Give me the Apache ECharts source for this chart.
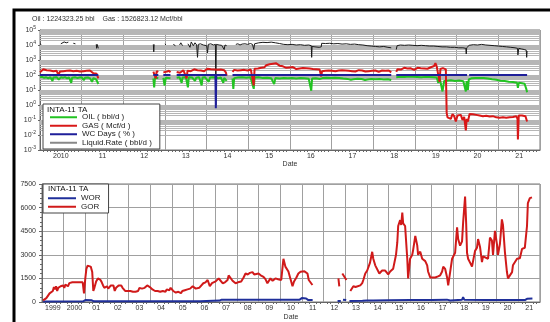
<!DOCTYPE html>
<html>
<head>
<meta charset="utf-8">
<script src="https://cdn.jsdelivr.net/npm/echarts@6/dist/echarts.min.js"></script>
<style>
  html, body { margin: 0; padding: 0; background: #fff; }
  #chart { width: 550px; height: 322px; }
</style>
</head>
<body>
<div id="chart"></div>
<script>
// ---- data (x = decimal year) ----
const topYearLabels = ['2010', '11', '12', '13', '14', '15', '16', '17', '18', '19', '20', '21'];
const bottomYearLabels = ['1999', '2000', '01', '02', '03', '04', '05', '06', '07', '08', '09', '10',
  '11', '12', '13', '14', '15', '16', '17', '18', '19', '20', '21'];
const bottomTicks = [0, 1500, 3000, 4500, 6000, 7500];

const oilRate = [
  [2010.00, 70], [2010.05, 75], [2010.10, 65], [2010.15, 70], [2010.20, 60], [2010.25, 72], [2010.30, 40], [2010.32, 68],
  [2010.40, 72], [2010.45, 50], [2010.50, 70], [2010.55, 65], [2010.60, 72], [2010.65, 60], [2010.70, 68], [2010.75, 30],
  [2010.77, 66], [2010.85, 70], [2010.90, 62], [2010.95, 68], [2011.00, 70], [2011.05, 45], [2011.08, 65], [2011.15, 68],
  [2011.20, 60], [2011.25, 35], [2011.28, 62], [2011.35, 50], [2011.40, 25], [2011.41, null],
  [2012.72, 60], [2012.74, 15], [2012.76, 65], [2012.84, 62], [2012.85, null],
  [2012.96, 65], [2012.99, 20], [2013.02, 66], [2013.13, 60], [2013.14, null],
  [2013.28, 65], [2013.35, 70], [2013.40, 30], [2013.42, 68], [2013.50, 72], [2013.55, 15], [2013.57, 70], [2013.65, 68],
  [2013.72, 40], [2013.75, 66], [2013.82, 70], [2013.88, 20], [2013.90, 68], [2013.96, 72], [2014.00, 64], [2014.05, 35],
  [2014.08, 68], [2014.15, 70], [2014.22, 66], [2014.28, 60], [2014.34, 68], [2014.40, 30], [2014.42, 65], [2014.48, 40],
  [2014.49, null],
  [2014.62, 60], [2014.64, 12], [2014.66, 62], [2014.75, 68], [2014.85, 70], [2014.95, 66], [2015.05, 72], [2015.13, 12],
  [2015.15, 68], [2015.25, 70], [2015.35, 62], [2015.45, 66], [2015.55, 60], [2015.62, 25], [2015.65, 64], [2015.75, 58],
  [2015.85, 62], [2015.95, 60], [2016.05, 64], [2016.15, 58], [2016.25, 62], [2016.35, 60], [2016.45, 56], [2016.51, 9],
  [2016.53, 58], [2016.62, 60], [2016.72, 55], [2016.75, 45], [2016.78, 62], [2016.88, 66], [2016.98, 64], [2017.08, 66],
  [2017.18, 62], [2017.28, 58], [2017.38, 55], [2017.46, 48], [2017.52, 52], [2017.62, 56], [2017.72, 54], [2017.80, 46],
  [2017.86, 50], [2017.95, 54], [2018.05, 52], [2018.15, 54], [2018.25, 50], [2018.35, 52], [2018.43, 46], [2018.44, null],
  [2018.55, 72], [2018.65, 76], [2018.75, 74], [2018.85, 78], [2018.95, 76], [2019.05, 74], [2019.15, 72], [2019.25, 75],
  [2019.35, 73], [2019.45, 70], [2019.52, 68], [2019.56, 30], [2019.59, 66], [2019.63, 64], [2019.66, 8], [2019.70, 40],
  [2019.76, 42], [2019.86, 45], [2019.96, 40], [2020.06, 43], [2020.16, 38], [2020.22, 8], [2020.24, 40], [2020.27, 10],
  [2020.29, 50], [2020.35, 60], [2020.45, 62], [2020.55, 64], [2020.65, 62], [2020.75, 58], [2020.85, 52], [2020.95, 48],
  [2021.05, 42], [2021.15, 40], [2021.25, 36], [2021.35, 34], [2021.45, 30], [2021.47, 14], [2021.49, 30], [2021.57, 28],
  [2021.63, 26], [2021.67, 12], [2021.69, 7]
];

const gasRate = [
  [2010.00, 150], [2010.04, 170], [2010.08, 240], [2010.12, 260], [2010.16, 210], [2010.20, 170], [2010.24, 200], [2010.28, 230],
  [2010.32, 180], [2010.36, 150], [2010.40, 190], [2010.44, 100], [2010.48, 170], [2010.52, 200], [2010.56, 180], [2010.60, 210],
  [2010.64, 190], [2010.68, 160], [2010.72, 200], [2010.76, 220], [2010.80, 180], [2010.84, 140], [2010.88, 190], [2010.92, 210],
  [2010.96, 170], [2011.00, 200], [2011.04, 180], [2011.08, 150], [2011.12, 190], [2011.16, 170], [2011.20, 200], [2011.24, 160],
  [2011.28, 130], [2011.32, 170], [2011.36, 120], [2011.40, 60], [2011.41, null],
  [2012.72, 170], [2012.75, 210], [2012.78, 60], [2012.80, 180], [2012.84, 160], [2012.85, null],
  [2012.96, 150], [2013.00, 200], [2013.05, 170], [2013.10, 190], [2013.13, 150], [2013.14, null],
  [2013.28, 160], [2013.32, 180], [2013.36, 140], [2013.40, 190], [2013.44, 210], [2013.48, 170], [2013.52, 60], [2013.54, 190],
  [2013.58, 220], [2013.62, 180], [2013.66, 200], [2013.70, 240], [2013.74, 190], [2013.78, 210], [2013.82, 250], [2013.86, 200],
  [2013.90, 230], [2013.94, 180], [2013.98, 220], [2014.02, 260], [2014.06, 210], [2014.10, 240], [2014.14, 200], [2014.18, 230],
  [2014.22, 260], [2014.26, 220], [2014.30, 190], [2014.34, 230], [2014.38, 250], [2014.42, 210], [2014.46, 150], [2014.48, 90],
  [2014.49, null],
  [2014.62, 160], [2014.66, 220], [2014.70, 250], [2014.74, 200], [2014.78, 230], [2014.82, 210], [2014.86, 250], [2014.90, 220],
  [2014.94, 240], [2014.98, 200], [2015.02, 260], [2015.06, 230], [2015.10, 280], [2015.13, 20], [2015.15, 260], [2015.19, 300],
  [2015.23, 270], [2015.27, 340], [2015.31, 300], [2015.35, 380], [2015.39, 330], [2015.43, 450], [2015.47, 400], [2015.51, 520],
  [2015.55, 430], [2015.59, 560], [2015.63, 470], [2015.67, 600], [2015.71, 500], [2015.75, 420], [2015.79, 520], [2015.83, 380],
  [2015.87, 440], [2015.91, 300], [2015.95, 260], [2015.99, 320], [2016.03, 280], [2016.07, 340], [2016.11, 290], [2016.15, 250],
  [2016.19, 310], [2016.23, 270], [2016.27, 230], [2016.31, 290], [2016.35, 250], [2016.39, 280], [2016.43, 240], [2016.47, 270],
  [2016.51, 220], [2016.55, 250], [2016.59, 210], [2016.63, 240], [2016.67, 200], [2016.71, 230], [2016.75, 80], [2016.77, 180],
  [2016.81, 210], [2016.85, 190], [2016.89, 220], [2016.93, 200], [2016.97, 230], [2017.01, 190], [2017.05, 210], [2017.09, 180],
  [2017.13, 220], [2017.17, 200], [2017.21, 190], [2017.25, 210], [2017.29, 180], [2017.33, 200], [2017.37, 220], [2017.41, 190],
  [2017.45, 210], [2017.49, 180], [2017.53, 200], [2017.57, 170], [2017.61, 190], [2017.65, 210], [2017.69, 180], [2017.73, 200],
  [2017.77, 190], [2017.81, 170], [2017.85, 200], [2017.89, 180], [2017.93, 210], [2017.97, 190], [2018.01, 170], [2018.05, 200],
  [2018.09, 180], [2018.13, 160], [2018.17, 190], [2018.21, 200], [2018.25, 170], [2018.29, 190], [2018.33, 180], [2018.37, 200],
  [2018.41, 170], [2018.43, 150], [2018.44, null],
  [2018.55, 160], [2018.58, 240], [2018.62, 280], [2018.66, 230], [2018.70, 260], [2018.74, 300], [2018.78, 250], [2018.82, 270],
  [2018.86, 230], [2018.90, 280], [2018.94, 250], [2018.98, 220], [2019.02, 270], [2019.06, 300], [2019.10, 250], [2019.14, 280],
  [2019.18, 320], [2019.22, 270], [2019.26, 300], [2019.30, 260], [2019.34, 290], [2019.38, 330], [2019.42, 280], [2019.46, 400],
  [2019.49, 620], [2019.52, 380], [2019.56, 300], [2019.59, 35], [2019.61, 250], [2019.64, 300], [2019.67, 290], [2019.71, 250],
  [2019.74, 240], [2019.76, 0.3], [2019.78, 0.15], [2019.82, 0.2], [2019.86, 0.12], [2019.90, 0.25], [2019.94, 0.18], [2019.98, 0.08],
  [2020.02, 0.2], [2020.06, 0.15], [2020.10, 0.22], [2020.14, 0.1], [2020.18, 0.16], [2020.22, 0.02], [2020.24, 0.12], [2020.27, 0.08],
  [2020.31, 0.25], [2020.35, 0.2], [2020.39, 0.24], [2020.43, 0.18], [2020.47, 0.22], [2020.51, 0.17], [2020.55, 0.2], [2020.59, 0.15],
  [2020.63, 0.18], [2020.67, 0.16], [2020.71, 0.19], [2020.75, 0.15], [2020.79, 0.17], [2020.83, 0.14], [2020.87, 0.18], [2020.91, 0.16],
  [2020.95, 0.15], [2020.99, 0.17], [2021.03, 0.14], [2021.07, 0.16], [2021.11, 0.15], [2021.15, 0.17], [2021.19, 0.14], [2021.23, 0.16],
  [2021.27, 0.15], [2021.31, 0.17], [2021.35, 0.16], [2021.39, 0.15], [2021.43, 0.18], [2021.46, 0.12], [2021.47, 0.005], [2021.49, 0.2],
  [2021.53, 0.25], [2021.57, 0.2], [2021.61, 0.26], [2021.65, 0.18], [2021.69, 0.08]
];

const wcDays = [
  [2010.00, 100], [2011.40, 100], [2011.41, null],
  [2012.72, 100], [2012.84, 100], [2012.85, null],
  [2012.96, 100], [2013.13, 100], [2013.14, null],
  [2013.28, 100], [2014.21, 100], [2014.22, 0.6], [2014.23, 100], [2014.48, 100], [2014.49, null],
  [2014.62, 100], [2018.43, 100], [2018.44, null],
  [2018.55, 100], [2020.25, 100], [2020.26, null],
  [2020.30, 100], [2021.69, 100]
];

const liquidRate = [
  [2010.00, 12000], [2010.03, 11000], [2010.04, null],
  [2010.50, 12000], [2010.53, 15000], [2010.58, 16000], [2010.63, 14000], [2010.68, 15500], [2010.72, null],
  [2010.80, 13000], [2010.85, 12000], [2010.86, null],
  [2011.35, 11000], [2011.36, 6000], [2011.37, 11000], [2011.40, 6000], [2011.41, null],
  [2012.72, 11000], [2012.73, 3500], [2012.74, 11000], [2012.76, null],
  [2013.00, 12000], [2013.02, 10000], [2013.03, null],
  [2013.20, 11000], [2013.25, 9000], [2013.26, null],
  [2013.35, 10000], [2013.38, 14000], [2013.42, 9000], [2013.44, null],
  [2013.55, 12000], [2013.58, 16000], [2013.60, 7000], [2013.63, 16000], [2013.68, 9000], [2013.72, 14000], [2013.76, 10000],
  [2013.78, 1500], [2013.80, 11000], [2013.85, 12000], [2013.92, 10000], [2013.96, 11000], [2014.00, 9000], [2014.02, 3000],
  [2014.04, 11000], [2014.10, 12000], [2014.16, 10000], [2014.21, 11000], [2014.22, 1], [2014.23, 11000], [2014.30, 10000],
  [2014.36, 9500], [2014.42, 5000], [2014.44, 10000], [2014.48, 9000], [2014.49, null],
  [2014.70, 11000], [2014.75, 12000], [2014.80, 10000], [2014.85, 11500], [2014.92, 12000], [2014.98, 11000], [2015.05, 12500],
  [2015.10, 11000], [2015.13, 5000], [2015.15, 12000], [2015.25, 14000], [2015.35, 15000], [2015.45, 14500], [2015.55, 15500],
  [2015.65, 14000], [2015.75, 12500], [2015.85, 11000], [2015.95, 10500], [2016.05, 11000], [2016.15, 10000], [2016.25, 10500],
  [2016.35, 9500], [2016.45, 10000], [2016.51, 9000], [2016.52, 1500], [2016.53, 8000], [2016.60, 7500], [2016.70, 7000],
  [2016.75, 7500], [2016.76, 13000], [2016.85, 12500], [2016.95, 13000], [2017.05, 12000], [2017.15, 12500], [2017.25, 11500],
  [2017.35, 12000], [2017.45, 11000], [2017.55, 11500], [2017.65, 10500], [2017.75, 10000], [2017.85, 9000], [2017.95, 8500],
  [2018.05, 8000], [2018.15, 7500], [2018.25, 8000], [2018.35, 7000], [2018.43, 6500], [2018.44, null],
  [2018.55, 5000], [2018.57, 9000], [2018.65, 10000], [2018.75, 9500], [2018.85, 10000], [2018.95, 9500], [2019.05, 9000],
  [2019.15, 9500], [2019.25, 9000], [2019.35, 8500], [2019.45, 8500], [2019.55, 8000], [2019.65, 7500], [2019.75, 7500],
  [2019.85, 7000], [2019.95, 7000], [2020.05, 6500], [2020.15, 6500], [2020.22, 6000], [2020.23, 2500], [2020.24, 6500],
  [2020.30, 9500], [2020.40, 10500], [2020.50, 10000], [2020.60, 11000], [2020.70, 10000], [2020.80, 9500], [2020.90, 9000],
  [2021.00, 8500], [2021.10, 8000], [2021.20, 7500], [2021.30, 7000], [2021.40, 6500], [2021.46, 6000], [2021.47, 2200],
  [2021.49, 6000], [2021.55, 5500], [2021.62, 5000], [2021.67, 4500], [2021.68, 1500], [2021.69, 4000]
];

const worRatio = [
  [1999.05, 30], [2000.90, 40], [2001.00, 120], [2001.30, 110], [2001.40, 40], [2006.30, 40], [2006.35, 90], [2007.20, 90],
  [2007.30, 150], [2010.90, 150], [2011.00, 250], [2011.20, 220], [2011.30, 120], [2011.50, 120], [2011.51, null],
  [2012.65, 60], [2012.80, 60], [2012.81, null], [2012.90, 150], [2013.05, 120], [2013.06, null],
  [2013.20, 60], [2013.80, 80], [2014.00, 90], [2014.30, 100], [2015.00, 110], [2016.00, 120], [2017.00, 120], [2017.70, 150],
  [2017.76, 250], [2017.85, 100], [2018.40, 150], [2018.45, 300], [2018.50, 150], [2019.50, 130], [2020.50, 120],
  [2021.30, 120], [2021.40, 200], [2021.65, 220]
];

const gorRatio = [
  [1999.05, 100], [1999.12, 150], [1999.20, 250], [1999.28, 300], [1999.35, 550], [1999.42, 650], [1999.50, 700], [1999.55, 950],
  [1999.60, 800], [1999.65, 1000], [1999.70, 700], [1999.75, 900], [1999.80, 780], [1999.86, 1000], [1999.92, 900], [1999.97, 1050],
  [2000.03, 900], [2000.08, 1100], [2000.14, 1150], [2000.20, 1000], [2000.26, 1200], [2000.32, 1150], [2000.40, 1250], [2000.48, 1200],
  [2000.56, 1250], [2000.64, 1200], [2000.72, 1250], [2000.80, 1150], [2000.88, 1250], [2000.94, 550], [2001.00, 1500], [2001.05, 2100],
  [2001.10, 2300], [2001.17, 2350], [2001.25, 2250], [2001.32, 1900], [2001.37, 700], [2001.42, 900], [2001.50, 1300], [2001.58, 1500],
  [2001.64, 1550], [2001.70, 1400], [2001.76, 1250], [2001.82, 1050], [2001.88, 900], [2001.94, 800], [2002.00, 1000], [2002.06, 850],
  [2002.12, 900], [2002.18, 1050], [2002.24, 950], [2002.30, 1050], [2002.36, 700], [2002.42, 900], [2002.48, 1000], [2002.54, 1050],
  [2002.60, 950], [2002.66, 1050], [2002.72, 900], [2002.78, 800], [2002.84, 700], [2002.90, 800], [2002.96, 700], [2003.02, 650],
  [2003.08, 700], [2003.14, 600], [2003.20, 650], [2003.26, 700], [2003.32, 650], [2003.38, 550], [2003.44, 700], [2003.50, 900],
  [2003.56, 800], [2003.62, 850], [2003.68, 750], [2003.74, 900], [2003.80, 1000], [2003.86, 1050], [2003.92, 1000], [2003.98, 950],
  [2004.04, 850], [2004.10, 800], [2004.16, 750], [2004.22, 700], [2004.28, 800], [2004.34, 700], [2004.40, 600], [2004.46, 650],
  [2004.52, 560], [2004.58, 700], [2004.64, 750], [2004.70, 650], [2004.76, 800], [2004.82, 700], [2004.88, 750], [2004.94, 900],
  [2005.00, 800], [2005.06, 700], [2005.12, 650], [2005.18, 600], [2005.24, 700], [2005.30, 650], [2005.36, 600], [2005.42, 560],
  [2005.48, 700], [2005.54, 800], [2005.60, 750], [2005.66, 700], [2005.72, 800], [2005.78, 900], [2005.84, 850], [2005.90, 950],
  [2005.96, 1000], [2006.02, 900], [2006.10, 850], [2006.18, 950], [2006.26, 900], [2006.33, 940], [2006.45, 1190], [2006.55, 1250],
  [2006.65, 1400], [2006.75, 1000], [2006.85, 1200], [2007.02, 1310], [2007.10, 1400], [2007.16, 1500], [2007.25, 1350],
  [2007.35, 1190], [2007.45, 1250], [2007.57, 1400], [2007.62, 1690], [2007.70, 1600], [2007.80, 1350], [2007.94, 1190],
  [2008.05, 1250], [2008.20, 1300], [2008.31, 1560], [2008.40, 1810], [2008.50, 1750], [2008.60, 1850], [2008.72, 1900],
  [2008.80, 1750], [2008.86, 1625], [2009.00, 1810], [2009.10, 1700], [2009.23, 1600], [2009.32, 1450], [2009.41, 1190],
  [2009.55, 1500], [2009.65, 1350], [2009.78, 1500], [2009.90, 1450], [2010.05, 1400], [2010.15, 2750], [2010.24, 2250],
  [2010.30, 2300], [2010.38, 1940], [2010.47, 1500], [2010.57, 1000], [2010.64, 1300], [2010.75, 1560], [2010.84, 1810],
  [2010.90, 1750], [2010.94, 1920], [2011.03, 2000], [2011.12, 1950], [2011.17, 2000], [2011.26, 1810], [2011.32, 1400],
  [2011.40, 1300], [2011.49, 1080], [2011.50, null],
  [2012.69, 1500], [2012.73, 1000], [2012.74, null],
  [2012.87, 1810], [2012.95, 1700], [2013.06, 1400], [2013.07, null],
  [2013.24, 700], [2013.32, 750], [2013.38, 1000], [2013.48, 950], [2013.56, 1060], [2013.70, 1060], [2013.79, 1200],
  [2013.84, 1400], [2013.93, 1810], [2014.02, 2000], [2014.15, 2500], [2014.25, 3190], [2014.30, 2750], [2014.39, 2330],
  [2014.48, 2250], [2014.58, 1810], [2014.65, 1900], [2014.71, 2000], [2014.76, 2120], [2014.85, 2000], [2014.99, 1750],
  [2015.08, 1940], [2015.22, 2120], [2015.35, 3000], [2015.41, 3800], [2015.45, 4830], [2015.54, 5200], [2015.59, 4900],
  [2015.64, 5690], [2015.68, 5000], [2015.77, 4830], [2015.87, 2750], [2015.91, 1500], [2016.00, 2750], [2016.10, 3000],
  [2016.14, 3300], [2016.24, 4200], [2016.33, 3600], [2016.37, 3000], [2016.47, 3200], [2016.56, 2750], [2016.60, 2750],
  [2016.70, 2600], [2016.79, 2330], [2016.83, 1940], [2016.93, 1560], [2017.02, 1500], [2017.16, 1560], [2017.29, 1625],
  [2017.39, 1700], [2017.48, 1940], [2017.53, 2250], [2017.62, 2100], [2017.71, 1560], [2017.76, 1060], [2017.85, 1900],
  [2017.94, 2750], [2018.08, 3130], [2018.17, 4750], [2018.22, 4000], [2018.31, 3580], [2018.40, 3850], [2018.45, 5060],
  [2018.54, 6700], [2018.59, 5000], [2018.63, 3130], [2018.68, 2750], [2018.77, 2500], [2018.86, 2250], [2018.91, 2200],
  [2019.00, 3250], [2019.09, 3450], [2019.14, 4000], [2019.23, 3500], [2019.32, 2540], [2019.37, 2900], [2019.46, 2850],
  [2019.60, 2750], [2019.69, 4100], [2019.78, 3900], [2019.83, 3000], [2019.92, 4520], [2020.01, 3700], [2020.06, 3000],
  [2020.15, 3700], [2020.24, 5250], [2020.29, 4900], [2020.38, 3170], [2020.47, 1940], [2020.52, 1500], [2020.61, 1625],
  [2020.71, 1900], [2020.75, 2330], [2020.84, 2250], [2020.94, 2750], [2020.98, 2780], [2021.07, 2780], [2021.17, 3375],
  [2021.21, 3450], [2021.30, 3450], [2021.40, 4830], [2021.44, 6290], [2021.53, 6600], [2021.63, 6650]
];

// ---- chart ----
const chart = echarts.init(document.getElementById('chart'), null, { renderer: 'canvas' });

// log grid lines at 2..9 x 10^k, like the reference's banded background
const logGridLevels = [];
for (let k = -3; k < 5; k++) {
  for (let m = 2; m <= 9; m++) logGridLevels.push(m * Math.pow(10, k));
}

const txt = { fontFamily: 'Liberation Sans', color: '#333' };
const halfYearFmt = (labels, start) => v => {
  const f = v - Math.floor(v);
  if (Math.abs(f - 0.5) > 0.01) return '';
  return labels[Math.floor(v) - start] || '';
};

const lineSeries = (name, data, color, width, xi, yi) => ({
  name, type: 'line', data, xAxisIndex: xi, yAxisIndex: yi, z: 3,
  showSymbol: false, symbol: 'none', connectNulls: false, silent: true,
  lineStyle: { color, width }, itemStyle: { color }
});

const option = {
  animation: false,
  backgroundColor: '#fff',
  textStyle: txt,
  title: [
    { text: 'Oil : 1224323.25 bbl    Gas : 1526823.12 Mcf/bbl', left: 32, top: 16, padding: 0,
      textStyle: { ...txt, fontSize: 7, fontWeight: 'normal' } },
    { text: 'INTA-11 TA', left: 47, top: 106, padding: 0, z: 20,
      textStyle: { ...txt, fontSize: 8, fontWeight: 'normal', color: '#111' } },
    { text: 'INTA-11 TA', left: 48, top: 185, padding: 0, z: 20,
      textStyle: { ...txt, fontSize: 8, fontWeight: 'normal', color: '#111' } }
  ],
  legend: [
    {
      orient: 'vertical', left: 43, top: 104, z: 10,
      padding: [9, 8, 2, 7], itemGap: 0, itemWidth: 27, itemHeight: 2, icon: 'rect',
      backgroundColor: '#fff', borderColor: '#444', borderWidth: 1,
      textStyle: { ...txt, fontSize: 8, lineHeight: 8.5, color: '#222' },
      data: [
        { name: 'OIL ( bbl/d )' }, { name: 'GAS ( Mcf/d )' }, { name: 'WC Days ( % )' },
        { name: 'Liquid.Rate ( bbl/d )', itemStyle: { color: '#888' } }
      ]
    },
    {
      orient: 'vertical', left: 43, top: 184, z: 10,
      padding: [10, 8, 2, 5], itemGap: 0, itemWidth: 28, itemHeight: 2, icon: 'rect',
      backgroundColor: '#fff', borderColor: '#444', borderWidth: 1,
      textStyle: { ...txt, fontSize: 8, lineHeight: 8.5, color: '#222' },
      data: ['WOR', 'GOR']
    }
  ],
  graphic: [
    { type: 'rect', shape: { x: 14, y: 10, width: 560, height: 340 }, silent: true,
      style: { fill: 'none', stroke: '#000', lineWidth: 3 }, z: 100 }
  ],
  grid: [
    { left: 40, right: 10, top: 30, bottom: 172, show: true, borderColor: '#777', borderWidth: 1 },
    { left: 42, right: 10, top: 184, bottom: 18, show: true, borderColor: '#777', borderWidth: 1 }
  ],
  xAxis: [
    {
      gridIndex: 0, type: 'value', min: 2010, max: 2022, interval: 0.5,
      name: 'Date', nameLocation: 'middle', nameGap: 11, nameTextStyle: { ...txt, fontSize: 7 },
      axisLine: { lineStyle: { color: '#666' } },
      axisTick: { show: false },
      minorTick: { show: true, splitNumber: 6, length: 2, lineStyle: { color: '#666' } },
      axisLabel: { ...txt, fontSize: 7, margin: 3, formatter: halfYearFmt(topYearLabels, 2010), showMinLabel: false, showMaxLabel: false },
      splitLine: { show: false }
    },
    {
      gridIndex: 0, type: 'value', min: 2010, max: 2022, interval: 1, position: 'top',
      axisLine: { show: false }, axisTick: { show: false }, axisLabel: { show: false },
      splitLine: { show: true, lineStyle: { color: '#a0a0a0', width: 1 } }
    },
    {
      gridIndex: 1, type: 'value', min: 1999, max: 2022, interval: 0.5,
      name: 'Date', nameLocation: 'middle', nameGap: 12, nameTextStyle: { ...txt, fontSize: 7 },
      axisLine: { lineStyle: { color: '#666' } },
      axisTick: { show: false },
      minorTick: { show: true, splitNumber: 3, length: 2, lineStyle: { color: '#666' } },
      axisLabel: { ...txt, fontSize: 7, margin: 3, formatter: halfYearFmt(bottomYearLabels, 1999), showMinLabel: false, showMaxLabel: false },
      splitLine: { show: false }
    },
    {
      gridIndex: 1, type: 'value', min: 1999, max: 2022, interval: 1, position: 'top',
      axisLine: { show: false }, axisTick: { show: false }, axisLabel: { show: false },
      splitLine: { show: true, lineStyle: { color: '#a0a0a0', width: 1 } }
    }
  ],
  yAxis: [
    {
      gridIndex: 0, type: 'log', logBase: 10, min: 0.001, max: 100000,
      axisLine: { show: true, lineStyle: { color: '#666' } },
      axisTick: { show: true, length: 2, lineStyle: { color: '#666' } },
      axisLabel: {
        margin: 4, color: '#333',
        formatter: v => '{b|10}{e|' + Math.round(Math.log10(v)) + '}',
        rich: {
          b: { fontSize: 7, fontFamily: 'Liberation Sans', color: '#333', lineHeight: 9 },
          e: { fontSize: 5, fontFamily: 'Liberation Sans', color: '#333', lineHeight: 5, verticalAlign: 'top' }
        }
      },
      splitLine: { show: true, lineStyle: { color: '#858585', width: 1 } }
    },
    {
      gridIndex: 1, type: 'value', min: 0, max: 7500, interval: 1500,
      axisLine: { show: true, lineStyle: { color: '#666' } },
      axisTick: { show: true, length: 3, lineStyle: { color: '#666' } },
      minorTick: { show: true, splitNumber: 5, length: 2, lineStyle: { color: '#666' } },
      axisLabel: { ...txt, fontSize: 7, margin: 6, formatter: v => bottomTicks.includes(v) ? String(v) : '' },
      splitLine: { show: true, lineStyle: { color: '#a0a0a0', width: 1 } }
    }
  ],
  series: [
    {
      name: 'logGrid', type: 'line', data: [], xAxisIndex: 0, yAxisIndex: 0, silent: true, z: 1,
      markLine: {
        silent: true, symbol: 'none', label: { show: false }, z: 1, animation: false,
        lineStyle: { color: '#b6b6b6', width: 1, type: 'solid' },
        data: logGridLevels.map(v => ({ yAxis: v }))
      }
    },
    lineSeries('Liquid.Rate ( bbl/d )', liquidRate, '#1a1a1a', 1, 0, 0),
    lineSeries('OIL ( bbl/d )', oilRate, '#22c322', 2, 0, 0),
    lineSeries('GAS ( Mcf/d )', gasRate, '#d81818', 2, 0, 0),
    lineSeries('WC Days ( % )', wcDays, '#1f1f9a', 2, 0, 0),
    lineSeries('WOR', worRatio, '#1f2f9a', 2, 2, 1),
    lineSeries('GOR', gorRatio, '#d01a1a', 2, 2, 1)
  ]
};

chart.setOption(option);
</script>
</body>
</html>
